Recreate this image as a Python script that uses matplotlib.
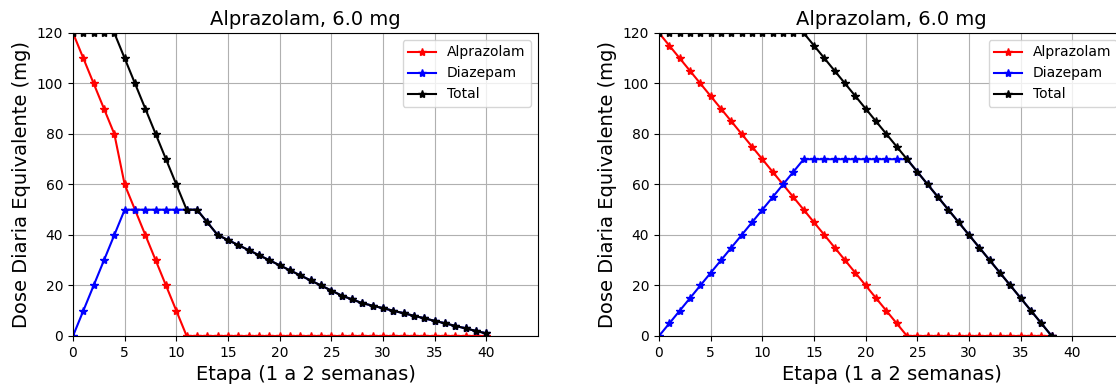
import matplotlib
matplotlib.use('Agg')
import matplotlib.pyplot as plt

# Esquema 1: etapas 0..40
etapas_1 = list(range(41))
alpraz_1 = [120, 110, 100, 90, 80, 60, 50, 40, 30, 20, 10] + [0] * 30
total_1 = [120, 120, 120, 120, 120, 110, 100, 90, 80, 70, 60, 50, 50, 45, 40,
           38, 36, 34, 32, 30, 28, 26, 24, 22, 20, 18, 16, 14.5, 13, 12, 11,
           10, 9, 8, 7, 6, 5, 4, 3, 2, 1]
diaz_1 = [0, 10, 20, 30, 40, 50, 50, 50, 50, 50, 50, 50] + total_1[12:]

# Esquema 2: etapas 0..38
etapas_2 = list(range(39))
alpraz_2 = [120, 115, 110, 105, 100, 95, 90, 85, 80, 75, 70, 65, 60, 55, 50,
            45, 40, 35, 30, 25, 20, 15, 10, 5] + [0] * 15
diaz_2 = [0, 5, 10, 15, 20, 25, 30, 35, 40, 45, 50, 55, 60, 65, 70, 70, 70,
          70, 70, 70, 70, 70, 70, 70, 70, 65, 60, 55, 50, 45, 40, 35, 30, 25,
          20, 15, 10, 5, 0]
total_2 = [120] * 15 + [115, 110, 105, 100, 95, 90, 85, 80, 75, 70, 65, 60,
                        55, 50, 45, 40, 35, 30, 25, 20, 15, 10, 5, 0]

titulo = 'Alprazolam, 6.0 mg'

fig = plt.figure(figsize=(11.16, 3.87), dpi=100)
ax1 = fig.add_axes([0.0654, 0.1318, 0.4167, 0.783])
ax2 = fig.add_axes([0.5905, 0.1318, 0.4167, 0.783])

for ax, x, a, d, t in [(ax1, etapas_1, alpraz_1, diaz_1, total_1),
                       (ax2, etapas_2, alpraz_2, diaz_2, total_2)]:
    ax.plot(x, a, 'r-*', label='Alprazolam')
    ax.plot(x, d, 'b-*', label='Diazepam')
    ax.plot(x, t, 'k-*', label='Total')
    ax.set_xlim(0, 45)
    ax.set_ylim(0, 120)
    ax.set_xticks(range(0, 45, 5))
    ax.grid(True)
    ax.set_title(titulo, fontsize=14)
    ax.set_xlabel('Etapa (1 a 2 semanas)', fontsize=14)
    ax.set_ylabel('Dose Diaria Equivalente (mg)', fontsize=14)
    ax.legend(loc='upper right')

fig.savefig('out.png', dpi=100)
